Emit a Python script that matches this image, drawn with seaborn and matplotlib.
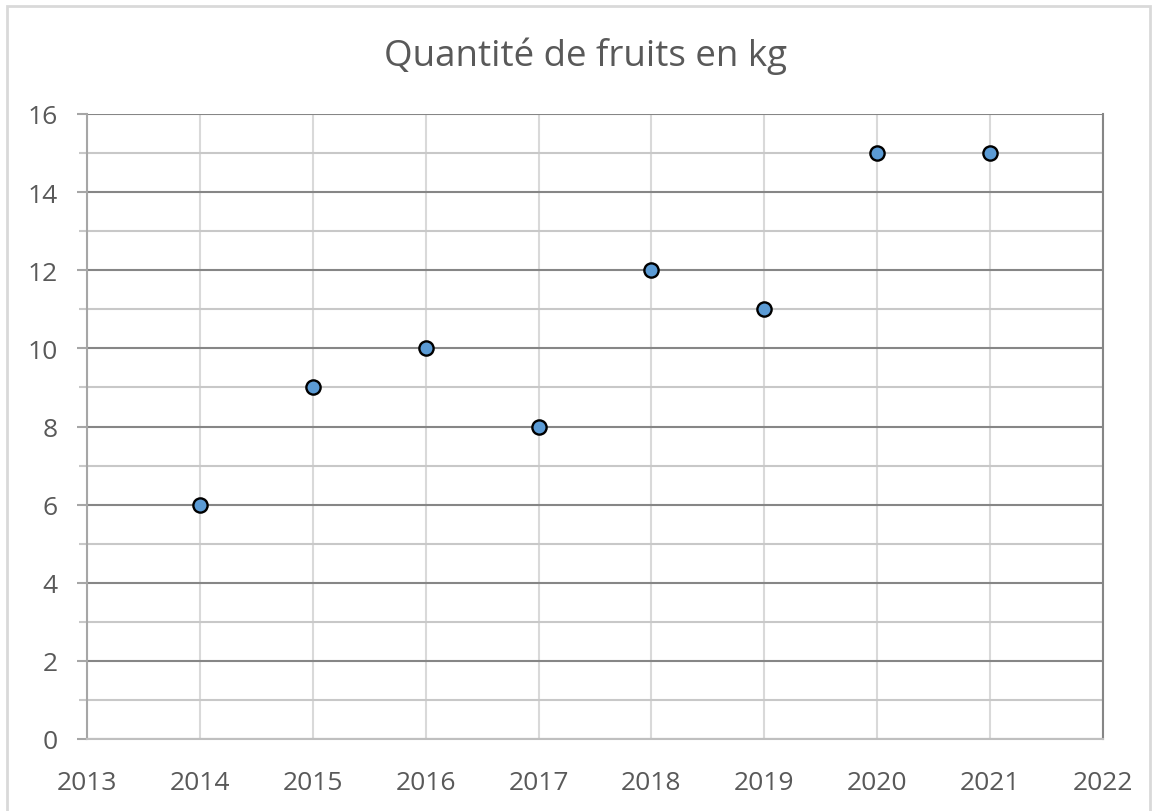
import matplotlib
matplotlib.use("Agg")
import matplotlib.pyplot as plt
import seaborn as sns
import pandas as pd
from matplotlib.patches import Rectangle
from matplotlib.ticker import MultipleLocator

years = [2014, 2015, 2016, 2017, 2018, 2019, 2020, 2021]
quantities = [6, 9, 10, 8, 12, 11, 15, 15]
title = "Quantité de fruits en kg"

sns.set_style("white")
plt.rcParams['font.family'] = ['Open Sans', 'DejaVu Sans']

df = pd.DataFrame({"annee": years, "kg": quantities})

fig = plt.figure(figsize=(11.55, 8.12), dpi=100)
ax = fig.add_axes([87/1155, 1-740/812, (1103-87)/1155, (740-115)/812])

# figure border
fig.patches.append(Rectangle((7/1155, -0.05), (1150-7)/1155, 1.05-7/812,
                             transform=fig.transFigure, fill=False,
                             edgecolor="#d9d9d9", linewidth=2, zorder=0))

sns.scatterplot(data=df, x="annee", y="kg", ax=ax, s=105, color="#5b9bd5",
                edgecolor="black", linewidth=1.7, zorder=5, legend=False)

ax.set_xlim(2013, 2022)
ax.set_ylim(0, 16)
ax.xaxis.set_major_locator(MultipleLocator(1))
ax.yaxis.set_major_locator(MultipleLocator(2))
ax.yaxis.set_minor_locator(MultipleLocator(1))

ax.grid(True, axis="x", which="major", color="#d9d9d9", linewidth=1.5, zorder=0)
ax.grid(True, axis="y", which="major", color="#868686", linewidth=1.5, zorder=1)
ax.grid(True, axis="y", which="minor", color="#c8c8c8", linewidth=1.5, zorder=0)
ax.set_axisbelow(True)

ax.spines["top"].set_visible(False)
ax.spines["left"].set_color("#a6a6a6")
ax.spines["left"].set_linewidth(1.5)
ax.spines["bottom"].set_color("#bfbfbf")
ax.spines["bottom"].set_linewidth(1.5)
ax.spines["right"].set_color("#868686")
ax.spines["right"].set_linewidth(1.5)

ax.tick_params(axis="y", which="major", length=7, width=1.5, color="#a6a6a6",
               pad=14, labelsize=19, labelcolor="#595959", left=True)
ax.tick_params(axis="y", which="minor", length=6, width=1.5, color="#c8c8c8", left=True)
ax.tick_params(axis="x", which="both", length=0, pad=22, labelsize=19, labelcolor="#595959")

ax.set_xlabel("")
ax.set_ylabel("")
t = ax.set_title(title, fontsize=26.5, color="#595959", pad=35)
t.set_x(0.491)

fig.savefig("out.png", dpi=100)
